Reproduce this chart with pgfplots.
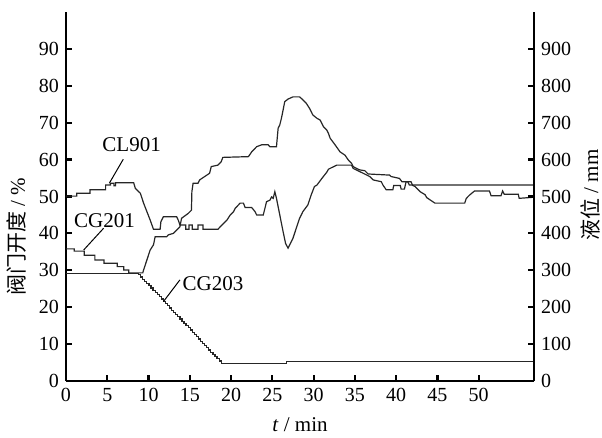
\documentclass[border=0pt]{standalone}
\usepackage{fontspec}
\setmainfont{Liberation Serif}
\newfontfamily\cjk{Noto Sans CJK SC}
\usepackage{pgfplots}
\pgfplotsset{compat=1.18}
\begin{document}
\begin{tikzpicture}
\pgfplotsset{
  common/.style={
    at={(0,0)}, anchor=south west, scale only axis,
    width=234pt, height=184.5pt,
    xmin=0, xmax=56.7,
    tick align=inside, major tick length=3.2pt,
    axis line style={line width=1.1pt},
    every tick/.style={line width=1.1pt, black},
    tick label style={font=\fontsize{10}{12}\selectfont},
    /pgf/number format/assume math mode=true,
  },
  curve/.style={black!85, line width=0.6pt, no marks, sharp plot},
}
\begin{axis}[common, name=ax,
  ymin=0, ymax=100,
  axis x line*=bottom, axis y line*=left,
  xtick={0,5,...,50}, ytick={0,10,...,90},
  clip=false]
% CG203
\addplot[curve, const plot] coordinates {
(0,29.2) (8.8,28.8) (9.05,28.2) (9.3,27.6) (9.55,27.0) (9.8,26.4) (10.05,25.8)
(10.3,25.2) (10.55,24.6) (10.8,24.0) (11.05,23.4) (11.3,22.8) (11.55,22.2) (11.8,21.6)
(12.05,21.0) (12.3,20.4) (12.55,19.8) (12.8,19.2) (13.05,18.6) (13.3,18.0) (13.55,17.4)
(13.8,16.8) (14.05,16.2) (14.3,15.6) (14.55,15.0) (14.8,14.4) (15.05,13.8) (15.3,13.2)
(15.55,12.6) (15.8,12.0) (16.05,11.4) (16.3,10.8) (16.55,10.2) (16.8,9.6) (17.05,9.0)
(17.3,8.4) (17.55,7.8) (17.8,7.2) (18.05,6.6) (18.3,6.0) (18.55,5.4) (18.8,4.8)
(26.7,5.2) (56.7,5.2)
};
% CG201
\addplot[curve] coordinates {
(0,35.8) (1.0,35.8) (1.0,35.2) (2.2,35.2) (2.2,34.1) (3.5,34.1) (3.5,32.8) (4.6,32.8)
(4.6,31.9) (6.2,31.9) (6.2,31.0) (7.0,31.0) (7.0,30.1) (7.6,30.1) (7.6,29.3) (9.3,29.3)
(9.4,30.1) (9.8,32.8) (10.2,35.5) (10.6,36.9) (10.8,39.1) (12.2,39.1) (12.4,39.6)
(13.0,40.0) (13.4,40.9) (13.8,41.8) (14.0,44.1) (14.8,45.4) (15.2,46.3) (15.25,51.3)
(15.4,53.6) (16.0,53.6) (16.2,54.5) (16.8,55.4) (17.4,56.3) (17.6,58.1) (18.4,58.5)
(18.8,59.4) (19.0,60.6) (22.1,60.8) (22.5,62.1) (23.1,63.5) (23.7,64.0) (24.5,64.0)
(24.7,63.5) (25.5,63.5) (25.7,68.5) (25.9,69.4) (26.1,71.2) (26.3,73.4) (26.5,75.7)
(26.9,76.4) (27.5,77.0) (28.3,77.0) (28.7,76.2) (29.1,75.3) (29.5,73.9) (29.9,72.1)
(30.4,71.2) (30.8,70.7) (31.2,68.9) (31.6,68.0) (31.8,67.1) (32.0,65.8) (32.6,64.0)
(33.2,62.1) (33.8,61.2) (34.2,59.9) (34.6,59.0) (34.8,58.1) (35.2,57.6) (35.6,57.2)
(36.2,57.0) (36.6,56.1) (39.2,55.8) (39.4,55.4) (40.4,54.9) (40.7,54.0) (41.4,54.0)
(41.6,53.1) (56.7,53.1)
};
% CL901
\addplot[curve] coordinates {
(0,50.1) (1.3,50.1) (1.3,50.9) (2.9,50.9) (2.9,51.8) (4.8,51.8) (4.8,53.1) (5.4,53.1)
(5.4,53.6) (5.8,53.6) (5.8,52.9) (6.0,52.9) (6.0,53.7) (8.2,53.7) (8.4,52.2) (9.0,50.9)
(9.4,48.2) (9.8,45.9) (10.2,43.6) (10.6,41.1) (11.4,41.1) (11.5,43.2) (11.8,44.5)
(13.4,44.5) (13.6,43.6) (13.8,42.3) (14.5,42.3) (14.5,41.1) (14.9,41.1) (14.9,42.3)
(15.3,42.3) (15.3,41.1) (16.0,41.1) (16.0,42.3) (16.6,42.3) (16.6,41.1) (18.4,41.1)
(18.9,42.3) (19.5,43.6) (19.9,45.0) (20.3,45.9) (20.5,46.8) (21.1,48.2) (21.5,48.2)
(21.7,47.0) (22.5,47.0) (22.9,45.9) (23.1,45.0) (23.9,45.0) (24.1,46.8) (24.3,48.6)
(24.7,49.0) (24.9,49.9) (25.1,49.5) (25.3,51.3) (25.5,49.5) (25.9,45.0) (26.3,40.5)
(26.6,37.3) (26.9,36.0) (27.1,36.9) (27.5,38.7) (27.9,41.4) (28.3,44.1) (28.7,45.9)
(29.3,47.7) (29.7,50.4) (30.1,52.7) (30.4,53.1) (31.0,54.9) (31.6,56.6) (31.8,57.4)
(32.8,58.5) (34.6,58.5) (34.8,57.6) (36.0,56.3) (36.8,55.4) (37.2,54.5) (38.2,54.0)
(38.4,53.1) (38.8,51.8) (39.6,51.8) (39.7,53.0) (40.5,53.0) (40.6,52.0) (41.0,52.0)
(41.2,54.0) (41.8,54.0) (42.0,53.0) (42.3,52.7) (42.9,51.3) (43.5,50.5) (43.7,49.7)
(44.7,48.2) (48.3,48.2) (48.5,49.5) (48.9,50.4) (49.5,51.5) (51.3,51.5) (51.5,50.2)
(52.7,50.2) (52.9,51.5) (53.1,50.6) (54.8,50.6) (54.9,49.5) (56.7,49.8)
};
\node[font=\fontsize{10.5}{12}\selectfont] at (axis cs:7.95,64) {CL901};
\draw[line width=0.5pt] (axis cs:6.94,60.1) -- (axis cs:5.25,53.6);
\node[font=\fontsize{10.5}{12}\selectfont] at (axis cs:4.66,43.4) {CG201};
\draw[line width=0.5pt] (axis cs:4.56,41.4) -- (axis cs:2.14,35.5);
\node[font=\fontsize{10.5}{12}\selectfont] at (axis cs:17.8,26.3) {CG203};
\draw[line width=0.5pt] (axis cs:13.8,27.4) -- (axis cs:11.8,21.5);
\end{axis}
\begin{axis}[common,
  ymin=0, ymax=1000,
  axis x line=none, axis y line*=right,
  ytick={0,100,...,900}]
\end{axis}
\node[rotate=90, font=\fontsize{10.5}{12}\selectfont] at (-24.5pt,72pt) {{\cjk 阀门开度} / \%};
\node[rotate=90, font=\fontsize{10.5}{12}\selectfont] at (262pt,93pt) {{\cjk 液位} / mm};
\node[font=\fontsize{10.5}{12}\selectfont] at (117pt,-22pt) {\textit{t} / min};
\pgfresetboundingbox
\path (-33pt,-28.5pt) rectangle (268pt,190.5pt);
\end{tikzpicture}
\end{document}
